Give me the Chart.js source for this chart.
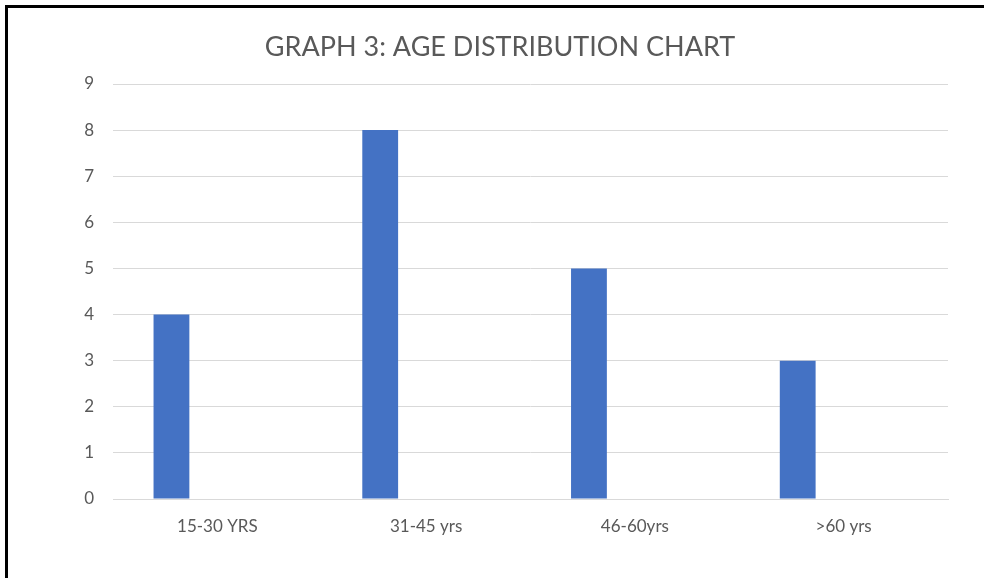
<!DOCTYPE html>
<html>
<head>
<meta charset="utf-8">
<script src="https://cdn.jsdelivr.net/npm/chart.js@4/dist/chart.umd.min.js"></script>
<style>
  html, body { margin: 0; padding: 0; background: #fff; }
  #wrap { position: relative; width: 984px; height: 578px; overflow: hidden; }
  #frame { position: absolute; left: 5px; top: 5px; right: -10px; bottom: -10px;
           border-top: 3px solid #000; border-left: 3px solid #000; pointer-events: none; }
  canvas { position: absolute; left: 0; top: 0; }
</style>
</head>
<body>
<div id="wrap">
  <canvas id="chart" width="984" height="578"></canvas>
  <div id="frame"></div>
</div>
<script>
// Age groups and respondent counts
const ageGroups = ['15-30 YRS', '31-45 yrs', '46-60yrs', '>60 yrs'];
const respondents = [4, 8, 5, 3];
// Empty second column from the source sheet (keeps bars in the left slot)
const emptyColumn = [null, null, null, null];
const yTicks = [0, 1, 2, 3, 4, 5, 6, 7, 8, 9];

const textGrey = '#595959';
const gridGrey = '#d9d9d9';
const fontFamily = 'Lato, "Open Sans", sans-serif';

new Chart(document.getElementById('chart'), {
  type: 'bar',
  data: {
    labels: ageGroups,
    datasets: [
      { label: 'Count', data: respondents, backgroundColor: '#4472C4', borderWidth: 0,
        categoryPercentage: 0.88, barPercentage: 0.39 },
      { label: '', data: emptyColumn, backgroundColor: '#ED7D31', borderWidth: 0,
        categoryPercentage: 0.88, barPercentage: 0.39 }
    ]
  },
  options: {
    responsive: false,
    animation: false,
    layout: { padding: { left: 52, right: 36, top: 0, bottom: 0 } },
    plugins: {
      legend: { display: false },
      tooltip: { enabled: false },
      title: {
        display: true,
        text: 'GRAPH 3: AGE DISTRIBUTION CHART',
        color: textGrey,
        font: { family: fontFamily, size: 27, weight: 'normal' },
        padding: { top: 31, bottom: 20.6 }
      }
    },
    scales: {
      x: {
        grid: { display: false, drawTicks: false },
        border: { display: true, color: gridGrey, width: 1 },
        ticks: { color: textGrey, font: { family: fontFamily, size: 17 }, padding: 17, maxRotation: 0 },
        afterFit: (s) => { s.height = 79; }
      },
      y: {
        min: 0,
        max: 9,
        afterBuildTicks: (s) => { s.ticks = yTicks.map(v => ({ value: v })); },
        grid: { color: gridGrey, lineWidth: 1, drawTicks: false },
        border: { display: false },
        ticks: { color: textGrey, font: { family: fontFamily, size: 17 }, padding: 19 },
        afterFit: (s) => { s.width = 61; }
      }
    }
  }
});
</script>
</body>
</html>
